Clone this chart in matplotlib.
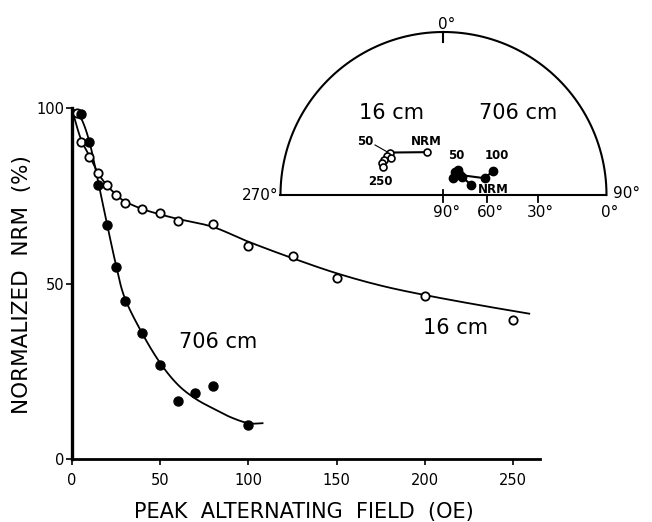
"""
AF demagnetization of NRM for two core depths, with stereonet inset
"""

# %% Imports

import numpy as np
import matplotlib
matplotlib.use('Agg')
import matplotlib.pyplot as plt


# %% Data

# 16 cm sample (open circles)
field_16 = [3, 5, 10, 15, 20, 25, 30, 40, 50, 60, 80, 100, 125, 150, 200, 250]
nrm_16 = [98.7, 90.3, 86.0, 81.5, 78.1, 75.2, 72.9, 71.2, 70.1, 68.0, 67.0,
          60.9, 58.0, 51.6, 46.5, 39.7]

# 706 cm sample (filled circles)
field_706 = [5, 10, 15, 20, 25, 30, 40, 50, 60, 70, 80, 100]
nrm_706 = [98.3, 90.3, 78.1, 66.8, 54.9, 45.0, 36.0, 27.0, 16.7, 19.0, 20.9,
           9.7]

# hand drawn curves through the points
curve_16_x = [0, 5, 10, 15, 20, 25, 30, 40, 50, 60, 80, 100, 125, 150, 175,
              200, 230, 259]
curve_16_y = [100, 91.5, 86.5, 81.5, 78, 75.5, 73.5, 71.3, 69.8, 68.5, 66.2,
              62, 57.3, 53, 49.5, 46.8, 44, 41.5]
curve_706_x = [0, 5, 10, 15, 20, 25, 30, 40, 50, 60, 70, 80, 90, 100, 108]
curve_706_y = [100, 97.5, 90.5, 79, 67, 55.5, 46, 35.8, 27.5, 21.3, 17.3,
               14.5, 12, 10.3, 10.3]

# directions in the inset (declination, inclination), NRM first
dec_16 = [339.3, 308.2, 304.8, 305.2, 300.5, 297.3, 295.1]
inc_16 = [58.6, 44.3, 44.4, 47.2, 44.0, 43.9, 45.3]
dec_706 = [70.3, 44.4, 29.7, 25.7, 30.1, 39.0, 67.9, 63.9]
inc_706 = [69.4, 72.0, 76.3, 71.9, 69.8, 72.0, 59.4, 52.6]

inc_ticks = [90, 60, 30, 0]
x_ticks = [0, 50, 100, 150, 200, 250]
y_ticks = [0, 50, 100]


# %% Helpers

def smooth(xs, ys, n=20):
    """
    Catmull-Rom line through the given knots
    """
    p = np.column_stack([xs, ys]).astype(float)
    p = np.vstack([p[0], p, p[-1]])
    t = np.linspace(0, 1, n, endpoint=False)[:, None]
    out = []
    for i in range(1, len(p) - 2):
        p0, p1, p2, p3 = p[i - 1], p[i], p[i + 1], p[i + 2]
        out.append(0.5 * (2 * p1 + (-p0 + p2) * t
                          + (2 * p0 - 5 * p1 + 4 * p2 - p3) * t ** 2
                          + (-p0 + 3 * p1 - 3 * p2 + p3) * t ** 3))
    out.append(p[-2][None])
    out = np.vstack(out)
    return out[:, 0], out[:, 1]


def project(dec, inc):
    """
    Wulff (equal angle) projection, unit radius
    """
    dec = np.radians(np.asarray(dec, float))
    r = np.tan(np.radians(90 - np.asarray(inc, float)) / 2)
    return r * np.sin(dec), r * np.cos(dec)


# %% Main plot

fig = plt.figure(figsize=(6.52, 5.22), dpi=100)
ax = fig.add_axes([0.110, 0.120, 0.718, 0.6725])

cx, cy = smooth(curve_16_x, curve_16_y)
ax.plot(cx, cy, color='black', lw=1.3, zorder=2)
cx, cy = smooth(curve_706_x, curve_706_y)
ax.plot(cx, cy, color='black', lw=1.3, zorder=2)

ax.plot(field_16, nrm_16, 'o', ms=6, mfc='white', mec='black', mew=1.3,
        zorder=3)
ax.plot(field_706, nrm_706, 'o', ms=6.5, mfc='black', mec='black', zorder=4)

ax.set_xlim(0, 265)
ax.set_ylim(0, 100)
ax.set_xticks(x_ticks)
ax.set_yticks(y_ticks)
ax.tick_params(axis='x', direction='out', length=4.5, width=1.2, pad=5,
               labelsize=10.5)
ax.tick_params(axis='y', direction='out', length=4, width=1.2, pad=1,
               labelsize=10.5)
for s in ['top', 'right']:
    ax.spines[s].set_visible(False)
ax.spines['left'].set_linewidth(2.4)
ax.spines['bottom'].set_linewidth(2.0)

ax.text(83, 33.5, '706 cm', fontsize=15, ha='center', va='center')
ax.text(217, 37.4, '16 cm', fontsize=15, ha='center', va='center')

fig.text(0.4665, 0.0198, 'PEAK  ALTERNATING  FIELD  (OE)', fontsize=15,
         ha='center', va='center')
fig.text(0.034, 0.454, 'NORMALIZED  NRM  (%)', fontsize=15.5, rotation=90,
         ha='center', va='center')


# %% Stereonet inset (upper half)

ins = fig.add_axes([0.4302, 0.6264, 0.5, 0.3123])
ins.set_xlim(-1, 1)
ins.set_ylim(0, 1)
ins.axis('off')

th = np.linspace(0, np.pi, 200)
ins.plot(np.cos(th), np.sin(th), color='black', lw=1.5, clip_on=False)
ins.plot([-1, 1], [0, 0], color='black', lw=1.5, clip_on=False)
ins.plot([0, 0], [1, 0.94], color='black', lw=1.5, clip_on=False)

for i in inc_ticks:
    u = np.tan(np.radians(90 - i) / 2)
    top = 0.03 if i == 90 else 0
    if i > 0:
        ins.plot([u, u], [top, -0.04], color='black', lw=1.3, clip_on=False)
    ins.text(u + 0.02, -0.06, '%d°' % i, fontsize=11, ha='center', va='top')

ins.text(0.02, 1.0, '0°', fontsize=11, ha='center', va='bottom')
ins.text(-1.015, 0, '270°', fontsize=11, ha='right', va='center')
ins.text(1.04, 0.01, '90°', fontsize=11, ha='left', va='center')

x16, y16 = project(dec_16, inc_16)
ins.plot(x16, y16, color='black', lw=1.5, clip_on=False, zorder=2)
ins.plot(x16, y16, 'o', ms=5, mfc='white', mec='black', mew=1.2,
         clip_on=False, zorder=3)
x706, y706 = project(dec_706, inc_706)
ins.plot(x706, y706, color='black', lw=1.5, clip_on=False, zorder=2)
ins.plot(x706, y706, 'o', ms=6, mfc='black', mec='black', clip_on=False,
         zorder=3)

ins.text(-0.319, 0.503, '16 cm', fontsize=15, ha='center', va='center')
ins.text(0.457, 0.503, '706 cm', fontsize=15, ha='center', va='center')

small = dict(fontsize=8.5, fontweight='bold', ha='center', va='center')
ins.text(-0.482, 0.327, '50', **small)
ins.text(-0.103, 0.327, 'NRM', **small)
ins.text(-0.39, 0.082, '250', **small)
ins.plot([-0.42, -0.348], [0.307, 0.266], color='black', lw=0.8)
ins.text(0.081, 0.245, '50', **small)
ins.text(0.326, 0.245, '100', **small)
ins.text(0.304, 0.031, 'NRM', **small)

plt.savefig('out.png', dpi=100)
